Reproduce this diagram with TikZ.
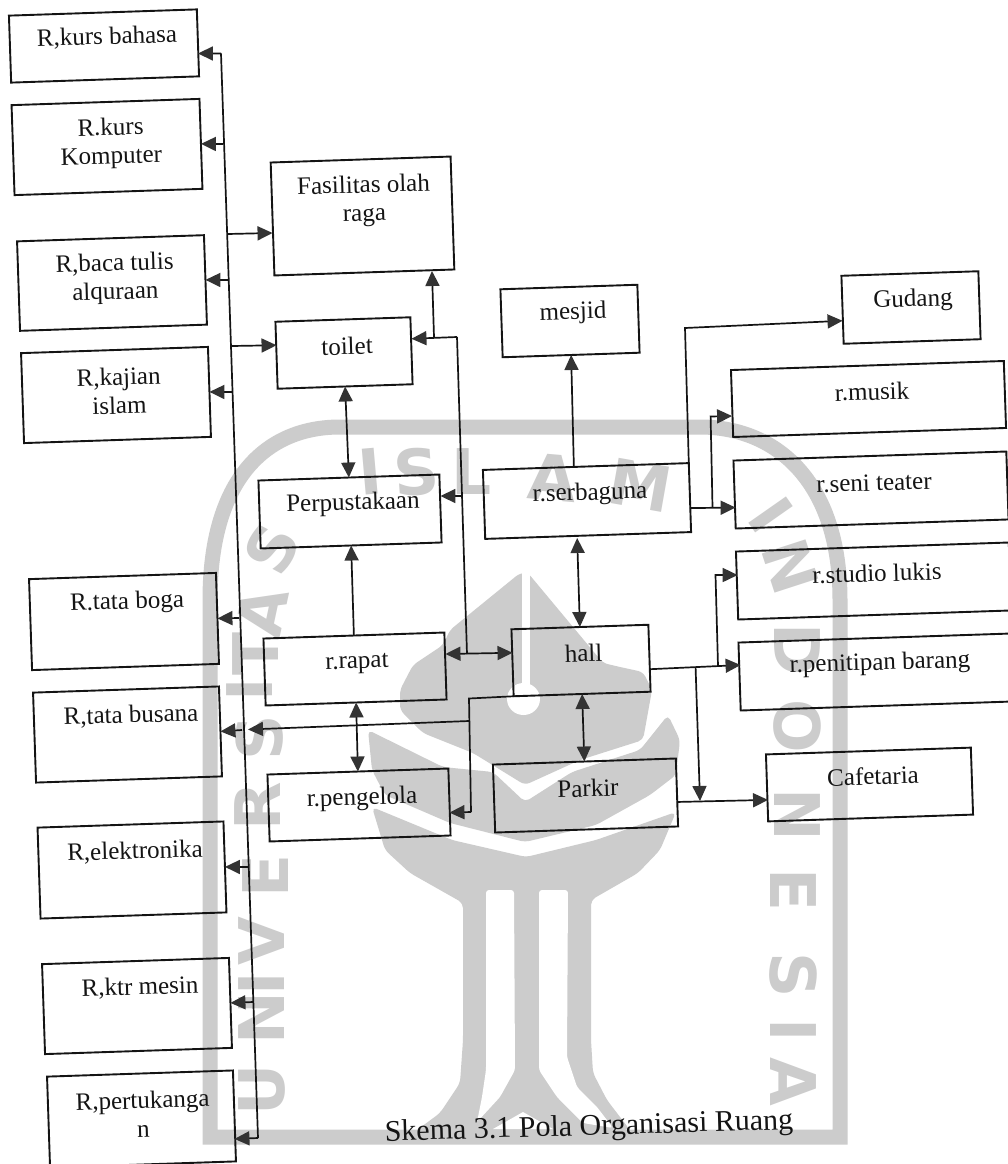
\documentclass[tikz,border=0pt]{standalone}
\usepackage{fontspec}
\setmainfont{Liberation Serif}
\newfontfamily\wmfont{DejaVu Sans}
\usetikzlibrary{arrows.meta,calc}
\definecolor{wmgray}{HTML}{CCCCCC}
\definecolor{ink}{HTML}{141414}
\definecolor{headink}{HTML}{333333}
\tikzset{
  roombox/.style={draw=ink,line width=1.9pt,rectangle,inner sep=0pt,outer sep=0pt,rotate=1.9},
  roomtext/.style={text=ink,font=\fontsize{25}{28.5}\selectfont,align=center,inner sep=0pt,rotate=1.7},
  wire/.style={draw=ink,line width=1.7pt},
  arr/.style={wire,-{Triangle[length=15pt,width=14pt,color=headink]}},
  dbl/.style={wire,{Triangle[length=15pt,width=14pt,color=headink]}-{Triangle[length=15pt,width=14pt,color=headink]}},
  wmfill/.style={fill=wmgray,rounded corners=5pt},
  wmwhite/.style={fill=white,rounded corners=3pt},
  wmletter/.style={text=wmgray,font=\fontsize{63}{63}\selectfont\wmfont\bfseries,inner sep=0pt}
}
\newcommand{\room}[6]{%
  \node[roombox,minimum width=#3pt,minimum height=#4pt] (#1) at (#2) {};
  \node[roomtext] (#1-t) at (#5) {#6};}
\begin{document}
\begin{tikzpicture}[x=1pt,y=-1pt]
\useasboundingbox[fill=white] (0,0) rectangle (1008,1164);
% watermark
\draw[wmgray,line width=15pt] (210,600) .. controls (210,480) and (265,427) .. (340,427) -- (700,427)
   .. controls (775,427) and (840,480) .. (840,600) -- (840,1137) -- (210,1137) -- cycle;
\fill[wmfill] (520,573) -- (450,630) -- (443,645) -- (413,665) -- (400,690) -- (400,710) -- (423,733) -- (473,753) -- (525,785) -- (580,760) -- (643,740) -- (652,690) -- (643,672) -- (620,667) -- (603,663) -- (528,573) -- cycle;
\fill[white] (522,565) rectangle (530,690);
\fill[white] (523.5,699) ellipse [x radius=16.5,y radius=16];
\fill[wmfill] (368,730) -- (443,767) -- (493,772) -- (525,802) -- (572,772) -- (640,750) -- (668,715) -- (680,740) -- (676,775) -- (650,795) -- (596,825) -- (525,842) -- (450,823) -- (385,795) -- (372,770) -- cycle;
\fill[wmfill] (372,807) -- (452,840) -- (526,857) -- (596,840) -- (676,812) -- (660,850) -- (638,873) -- (591,900) -- (591,1040) -- (593,1073) -- (607,1100) -- (630,1130) -- (417,1130) -- (440,1113) -- (460,1083) -- (463,1040) -- (463,903) -- (410,873) -- (385,850) -- cycle;
\fill[wmwhite] (486,1070) -- (486,890) -- (514,890) -- (515,1070) -- (500,1097) -- (477,1122) -- (482,1097) -- cycle;
\fill[wmwhite] (539,1070) -- (539,890) -- (568,890) -- (567,1057) -- (577,1087) -- (597,1107) -- (613,1128) -- (583,1123) -- (557,1097) -- cycle;
\fill[white] (523,1112) -- (493,1129) -- (553,1129) -- cycle;
\foreach \px/\py/\rr/\ch [count=\i] in {262/1090/90/U,262/1018/90/N,262/984/90/I,262/941/90/V,266/876/90/E,258/806/90/R,260/738/90/S,250/690/90/I,256/654/90/T,262/612/78/A,272/549/62/S,370/472/5/I,417/472/4/S,472/472/0/L,553/478/-5/A,640/485/-10/M,771/515/-55/I,790/566/-72/N,797/650/-90/D,797/726/-90/O,797/815/-90/N,793/890/-90/E,793/975/-90/S,793/1030/-90/I,793/1082/-90/A}
  \node[wmletter,rotate=\rr] (wm\i) at (\px,\py) {\ch};
% rooms
\room{kursb}{104,46}{188}{67}{107,37.5}{R,kurs bahasa}
\room{kursk}{107,147}{188}{90}{111,143.5}{R.kurs\\Komputer}
\room{baca}{112,283}{187}{89.5}{115,279}{R,baca tulis\\alquraan}
\room{kajian}{116,395}{187}{90}{119,391}{R,kajian\\islam}
\room{fasilitas}{362.5,216}{180}{113}{364,201}{Fasilitas olah\\raga}
\room{toilet}{344,353}{135}{67}{347,346}{toilet}
\room{perpus}{350,511.5}{181}{68}{353,504}{Perpustakaan}
\room{boga}{124,621.5}{187}{91}{127,603}{R.tata boga}
\room{busana}{127.5,734.5}{186}{90}{131,716}{R,tata busana}
\room{elektro}{132,870}{186}{91}{135,852}{R,elektronika}
\room{mesin}{137,1006}{187}{90}{140,988}{R,ktr mesin}
\room{tukang}{141.5,1119}{186}{91}{143,1114}{R,pertukanga\\n}
\room{rapat}{355,669}{181}{67}{357,664}{r.rapat}
\room{kelola}{359,805}{181}{67}{362,799}{r.pengelola}
\room{mesjid}{570,321}{137}{68}{573,313}{mesjid}
\room{gudang}{911,307.5}{137}{68}{913,300.5}{Gudang}
\room{serba}{587,501}{206}{69}{590,494}{r.serbaguna}
\room{musik}{868.5,399}{273}{67}{872,391.6}{r.musik}
\room{seni}{871,490}{273}{68}{874,482.7}{r.seni teater}
\room{lukis}{873.5,581}{273}{68}{877,573}{r.studio lukis}
\room{titip}{876,672}{273}{68}{880,664}{r.penitipan barang}
\room{hall}{581,660.5}{137}{67}{583.5,653}{hall}
\room{parkir}{585.5,795.5}{183}{68}{588,788}{Parkir}
\room{cafe}{869.5,784.5}{205}{67}{873,776}{Cafetaria}
\node[text=ink,font=\fontsize{30}{30}\selectfont,inner sep=0pt,rotate=1.7] (caption) at (589,1128) {Skema 3.1 Pola Organisasi Ruang};
% junction coordinates
\coordinate (busT) at (221,53.5);
\coordinate (bus2) at (223,144);
\coordinate (bus3) at (228,234);
\coordinate (bus4) at (228,280);
\coordinate (bus5) at (232,346);
\coordinate (bus6) at (232,392);
\coordinate (bus7) at (239,618);
\coordinate (bus8) at (242,730);
\coordinate (bus9) at (248,867);
\coordinate (bus10) at (253,1002);
\coordinate (busB) at (258,1138);
\coordinate (ub) at (457,337);
\coordinate (ubF) at (434,337);
\coordinate (ubP) at (462,496);
\coordinate (ubR) at (467,654);
\coordinate (hc) at (469,698.5);
\coordinate (ht) at (469,721);
\coordinate (hb) at (471,812);
\coordinate (busArr) at (248,729.5);
\coordinate (gc) at (685,328);
\coordinate (mj) at (712.5,507);
\coordinate (mc) at (710.6,416.5);
\coordinate (lj) at (718,666);
\coordinate (lc) at (715.5,575);
\coordinate (cj) at (695.6,668);
\coordinate (cd) at (700,801);
% connectors
\draw[wire] (busT) -- (busB);
\draw[arr] (busT) -- ($(kursb.east)+(0,10.6)$);
\draw[arr] (bus2) -- (kursk.east);
\draw[arr] (bus3) -- ($(fasilitas.west)+(0,14)$);
\draw[arr] (bus4) -- (baca.east);
\draw[arr] (bus5) -- ($(toilet.west)+(0,-10)$);
\draw[arr] (bus6) -- (kajian.east);
\draw[arr] (bus7) -- (boga.east);
\draw[arr] (bus8) -- (busana.east);
\draw[arr] (bus9) -- (elektro.east);
\draw[arr] (bus10) -- (mesin.east);
\draw[arr] (busB) -- ($(tukang.east)+(0,23)$);
\draw[arr] (ub) -- ($(toilet.east)+(0,-12)$);
\draw[arr] (ubF) -- ($(fasilitas.south)+(67.6,-1.5)$);
\draw[wire] (ub) -- (ubR);
\draw[arr] (ubP) -- ($(perpus.east)+(0,-12.5)$);
\draw[dbl] ($(rapat.east)+(0,-12)$) -- ($(hall.west)+(0,-10)$);
\draw[dbl] (toilet.south) -- (perpus.north);
\draw[arr] (rapat.north) -- (perpus.south);
\draw[dbl] (rapat.south) -- (kelola.north);
\draw[wire] (hall.south west) -- (hc) -- (hb);
\draw[arr] (hb) -- ($(kelola.east)+(0,10.6)$);
\draw[arr] (ht) -- (busArr);
\draw[dbl] (hall.south) -- (parkir.north);
\draw[dbl] ($(serba.south)+(-11,2.5)$) -- (hall.north);
\draw[arr] ($(serba.north)+(-12,0)$) -- (mesjid.south);
\draw[arr] (serba.north east) -- (gc) -- ($(gudang.west)+(0,11)$);
\draw[arr] ($(serba.east)+(0,10.5)$) -- ($(seni.west)+(1,13)$);
\draw[arr] (mj) -- (mc) -- ($(musik.west)+(0,12.5)$);
\draw[arr] ($(hall.east)+(0,11)$) -- ($(titip.west)+(1,-11.5)$);
\draw[arr] (lj) -- (lc) -- ($(lukis.west)+(0.6,-10.5)$);
\draw[arr] (cj) -- (cd);
\draw[arr] ($(parkir.east)+(0,9.5)$) -- ($(cafe.west)+(1,12)$);
\end{tikzpicture}
\end{document}
